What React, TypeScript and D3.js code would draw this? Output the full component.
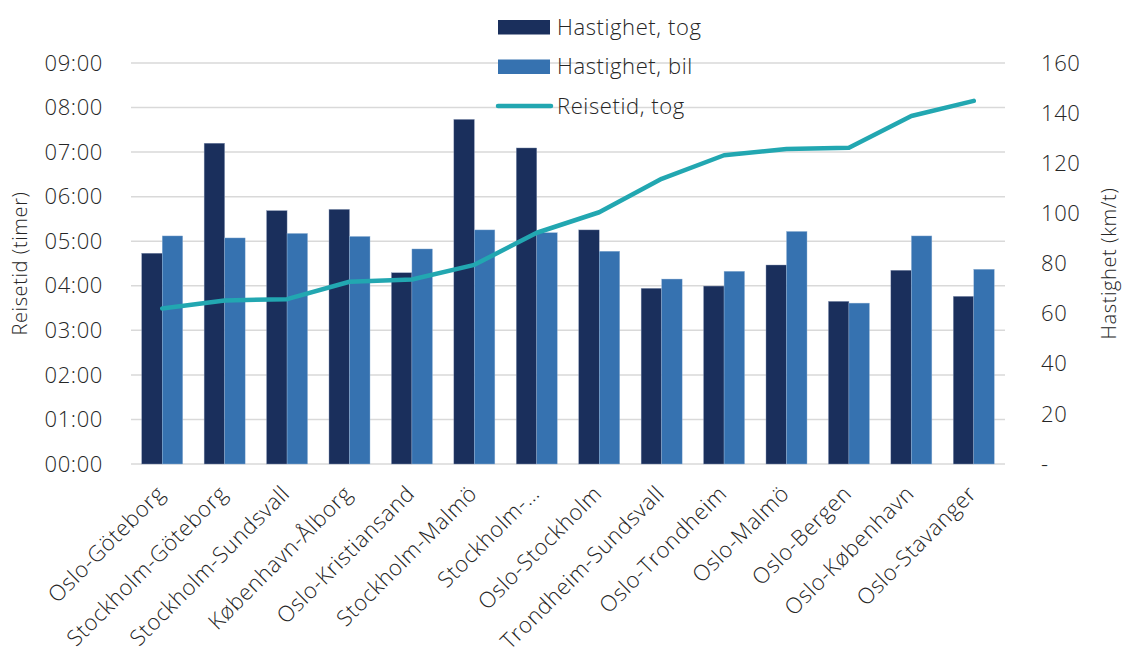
import React from "react";
import * as d3 from "d3";

const categories = [
  "Oslo-Göteborg",
  "Stockholm-Göteborg",
  "Stockholm-Sundsvall",
  "København-Ålborg",
  "Oslo-Kristiansand",
  "Stockholm-Malmö",
  "Stockholm-…",
  "Oslo-Stockholm",
  "Trondheim-Sundsvall",
  "Oslo-Trondheim",
  "Oslo-Malmö",
  "Oslo-Bergen",
  "Oslo-København",
  "Oslo-Stavanger",
];
const speedTrain = [84.1, 128.0, 101.1, 101.6, 76.3, 137.5, 126.1, 93.4, 70.1, 71.0, 79.4, 64.9, 77.3, 66.9];
const speedCar = [91.0, 90.2, 92.0, 90.8, 85.8, 93.4, 92.3, 84.9, 73.8, 76.9, 92.8, 64.2, 91.0, 77.7];
const travelHours = [3.49, 3.67, 3.7, 4.09, 4.14, 4.47, 5.19, 5.65, 6.4, 6.93, 7.07, 7.1, 7.81, 8.15];
const leftTicks = [0, 1, 2, 3, 4, 5, 6, 7, 8, 9];
const rightTicks = [0, 20, 40, 60, 80, 100, 120, 140, 160];
const legendItems = ["Hastighet, tog", "Hastighet, bil", "Reisetid, tog"];

const W = 1125;
const H = 655;
const plot = { left: 131, right: 1005, top: 63, bottom: 464 };
const C_TRAIN = "#1a2f5c";
const C_CAR = "#3672b0";
const C_LINE = "#22a7b1";
const FONT = "'Open Sans', sans-serif";
const TXT = "#262626";
const FW = 300;
const LS = 0.6;

const fmtHour = (h: number) => `${String(h).padStart(2, "0")}:00`;

export default function App() {
  const x = d3
    .scaleBand<string>()
    .domain(categories)
    .range([plot.left, plot.right])
    .paddingInner(0.343)
    .paddingOuter(0.1715);
  const xSub = d3.scaleBand<string>().domain(["tog", "bil"]).range([0, x.bandwidth()]);
  const yLeft = d3.scaleLinear().domain([0, 9]).range([plot.bottom, plot.top]);
  const yRight = d3.scaleLinear().domain([0, 160]).range([plot.bottom, plot.top]);
  const cx = (c: string) => (x(c) as number) + x.bandwidth() / 2;

  const line = d3
    .line<number>()
    .x((_, i) => cx(categories[i]))
    .y((d) => yLeft(d));

  const textProps = { fontFamily: FONT, fontWeight: FW, fill: TXT, letterSpacing: LS };

  return (
    <svg width={W} height={H} style={{ position: "absolute", left: 0, top: 0, background: "#fff" }}>
      {/* gridlines */}
      {leftTicks.map((t) => (
        <line key={t} x1={plot.left} x2={plot.right} y1={yLeft(t)} y2={yLeft(t)} stroke="#d9d9d9" strokeWidth={1.5} />
      ))}
      {/* bars */}
      {categories.map((c, i) => (
        <g key={c}>
          <rect
            x={(x(c) as number) + (xSub("tog") as number)}
            y={yRight(speedTrain[i])}
            width={xSub.bandwidth()}
            height={plot.bottom - yRight(speedTrain[i])}
            fill={C_TRAIN}
            stroke="#8e9dbb"
            strokeWidth={0.4}
          />
          <rect
            x={(x(c) as number) + (xSub("bil") as number)}
            y={yRight(speedCar[i])}
            width={xSub.bandwidth()}
            height={plot.bottom - yRight(speedCar[i])}
            fill={C_CAR}
            stroke="#9bb9da"
            strokeWidth={0.4}
          />
        </g>
      ))}
      {/* line */}
      <path d={line(travelHours) || ""} fill="none" stroke={C_LINE} strokeWidth={4.5} strokeLinejoin="round" strokeLinecap="round" />

      {/* left axis labels */}
      {leftTicks.map((t) => (
        <text key={t} x={103} y={yLeft(t)} dy="0.35em" textAnchor="end" fontSize={22} {...textProps}>
          {fmtHour(t)}
        </text>
      ))}
      {/* right axis labels */}
      {rightTicks.map((t) => (
        <text key={t} x={1041} y={yRight(t)} dy="0.35em" textAnchor="start" fontSize={22} {...textProps}>
          {t === 0 ? "-" : t}
        </text>
      ))}
      {/* axis titles */}
      <text
        transform={`translate(27, ${(plot.top + plot.bottom) / 2}) rotate(-90)`}
        textAnchor="middle"
        fontSize={20}
        {...textProps}
      >
        Reisetid (timer)
      </text>
      <text
        transform={`translate(1116, ${(plot.top + plot.bottom) / 2}) rotate(-90)`}
        textAnchor="middle"
        fontSize={20}
        {...textProps}
      >
        Hastighet (km/t)
      </text>
      {/* x labels */}
      {categories.map((c) => (
        <text
          key={c}
          transform={`translate(${cx(c) + 4}, ${plot.bottom + 31}) rotate(-45)`}
          textAnchor="end"
          fontSize={22}
          {...textProps}
        >
          {c}
        </text>
      ))}
      {/* legend */}
      {legendItems.map((label, i) => {
        const yc = 27 + i * 39.5;
        return (
          <g key={label}>
            {i < 2 ? (
              <rect x={498} y={yc - 7} width={52} height={14.5} fill={i === 0 ? C_TRAIN : C_CAR} />
            ) : (
              <line x1={498} x2={551} y1={yc} y2={yc} stroke={C_LINE} strokeWidth={4.5} strokeLinecap="round" />
            )}
            <text x={557} y={yc} dy="0.36em" fontSize={22} {...textProps}>
              {label}
            </text>
          </g>
        );
      })}
    </svg>
  );
}
